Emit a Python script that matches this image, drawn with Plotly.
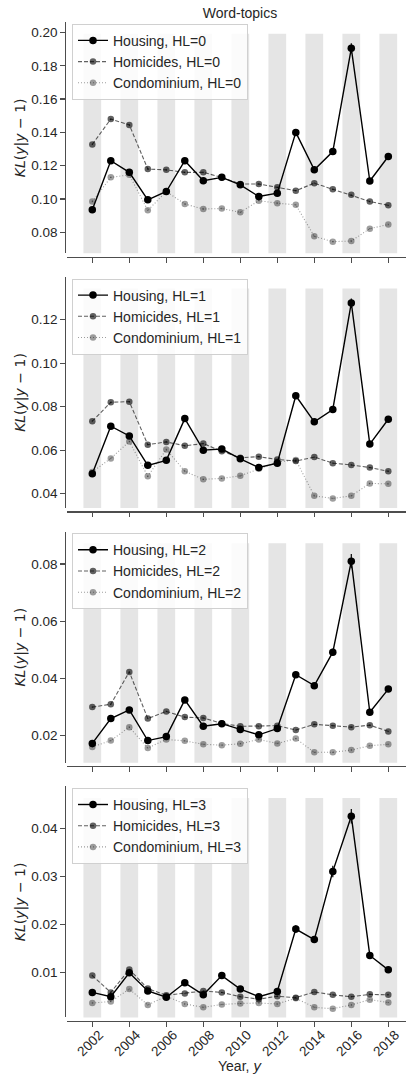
import plotly.graph_objects as go

years = list(range(2002, 2019))
band_years = [2002, 2004, 2006, 2008, 2010, 2012, 2014, 2016, 2018]
x_ticks = [2002, 2004, 2006, 2008, 2010, 2012, 2014, 2016, 2018]

housing_hl0 = [0.0935, 0.123, 0.116, 0.0995, 0.1045, 0.123, 0.111, 0.113, 0.1085, 0.1015, 0.1035, 0.140, 0.1175, 0.1285, 0.1905, 0.1108, 0.1255]
homicides_hl0 = [0.1328, 0.148, 0.1445, 0.118, 0.1175, 0.116, 0.116, 0.113, 0.109, 0.109, 0.107, 0.105, 0.1095, 0.1058, 0.1025, 0.0985, 0.0962]
condo_hl0 = [0.0985, 0.113, 0.1145, 0.0932, 0.1045, 0.097, 0.094, 0.0943, 0.092, 0.099, 0.0975, 0.0965, 0.0776, 0.0744, 0.0748, 0.0822, 0.0847]

housing_hl1 = [0.0492, 0.071, 0.0665, 0.053, 0.0553, 0.0745, 0.060, 0.0605, 0.056, 0.052, 0.054, 0.085, 0.073, 0.0787, 0.1277, 0.0628, 0.0742]
homicides_hl1 = [0.0733, 0.082, 0.0823, 0.0625, 0.0638, 0.062, 0.063, 0.0595, 0.0565, 0.057, 0.0557, 0.055, 0.0568, 0.054, 0.0532, 0.052, 0.0503]
condo_hl1 = [0.050, 0.0562, 0.064, 0.048, 0.0603, 0.0503, 0.0466, 0.047, 0.0482, 0.0515, 0.0545, 0.0555, 0.039, 0.0378, 0.039, 0.0447, 0.0445]

housing_hl2 = [0.0173, 0.026, 0.029, 0.0183, 0.0197, 0.0325, 0.0233, 0.0242, 0.0222, 0.0203, 0.0225, 0.0413, 0.0375, 0.0492, 0.081, 0.0282, 0.0363]
homicides_hl2 = [0.030, 0.031, 0.0423, 0.026, 0.0285, 0.0265, 0.0262, 0.0243, 0.0233, 0.0233, 0.0235, 0.022, 0.024, 0.0235, 0.023, 0.0237, 0.0215]
condo_hl2 = [0.0161, 0.0183, 0.023, 0.0157, 0.0187, 0.0182, 0.017, 0.0167, 0.0172, 0.0187, 0.0173, 0.019, 0.0142, 0.0142, 0.015, 0.0165, 0.017]

housing_hl3 = [0.0058, 0.0049, 0.0099, 0.0061, 0.0048, 0.0078, 0.0053, 0.0093, 0.0065, 0.0049, 0.006, 0.019, 0.0168, 0.031, 0.0425, 0.0135, 0.0105]
homicides_hl3 = [0.0093, 0.0058, 0.0106, 0.0066, 0.0052, 0.0056, 0.0061, 0.0058, 0.0049, 0.0044, 0.005, 0.0047, 0.0059, 0.0053, 0.0049, 0.0054, 0.0053]
condo_hl3 = [0.0036, 0.0039, 0.0065, 0.0032, 0.005, 0.0034, 0.0027, 0.0033, 0.0035, 0.0036, 0.0034, 0.0046, 0.0027, 0.0024, 0.0032, 0.0043, 0.0037]

housing_err = [
    [0.0008, 0.0008, 0.0008, 0.0008, 0.0008, 0.0008, 0.0008, 0.0008, 0.0008, 0.0008, 0.0008, 0.0012, 0.0009, 0.0015, 0.003, 0.0008, 0.0008],
    [0.0006, 0.0007, 0.0007, 0.0006, 0.0006, 0.0007, 0.0006, 0.0006, 0.0006, 0.0006, 0.0006, 0.0009, 0.0008, 0.0015, 0.002, 0.0007, 0.0007],
    [0.0005, 0.0005, 0.0005, 0.0005, 0.0005, 0.0006, 0.0005, 0.0005, 0.0005, 0.0005, 0.0005, 0.001, 0.0009, 0.0012, 0.0025, 0.0006, 0.0006],
    [0.0003, 0.0003, 0.0004, 0.0003, 0.0003, 0.0003, 0.0003, 0.0004, 0.0003, 0.0003, 0.0003, 0.0008, 0.0007, 0.0012, 0.0015, 0.0007, 0.0005],
]
other_err = [0.0004, 0.0003, 0.0002, 0.0001]

panels = [
    (housing_hl0, homicides_hl0, condo_hl0),
    (housing_hl1, homicides_hl1, condo_hl1),
    (housing_hl2, homicides_hl2, condo_hl2),
    (housing_hl3, homicides_hl3, condo_hl3),
]
y_ranges = [[0.0674, 0.2061], [0.0334, 0.1396], [0.01057, 0.0913], [0.0006, 0.0487]]
y_ticks = [[0.08, 0.10, 0.12, 0.14, 0.16, 0.18, 0.20], [0.04, 0.06, 0.08, 0.10, 0.12],
           [0.02, 0.04, 0.06, 0.08], [0.01, 0.02, 0.03, 0.04]]

W, H = 406, 1076
FONT = "Liberation Sans, Arial, sans-serif"
MATHFONT = "DejaVu Sans"
TXT = "#262626"
AX = "#4d4d4d"

fig = go.Figure()

styles = [
    dict(name="Housing", color="#000000", dash="solid", lw=1.4, ms=7.5),
    dict(name="Homicides", color="rgba(0,0,0,0.62)", dash="4px,2px", lw=1.1, ms=6.5),
    dict(name="Condominium", color="rgba(0,0,0,0.38)", dash="1px,2px", lw=1.1, ms=6.5),
]

x_left_px, axis_h, period = 67.3, 231.0, 254.7
top0 = 22.3
spine_x_px = 64.7

layout_axes = {}
for i, series in enumerate(panels):
    sfx = "" if i == 0 else str(i + 1)
    top = top0 + period * i
    bot = top + axis_h
    for k, (vals, st) in enumerate(zip(series, styles)):
        err = housing_err[i] if k == 0 else [other_err[i]] * len(vals)
        fig.add_trace(go.Scatter(
            x=years, y=vals, mode="lines+markers",
            name=f"{st['name']}, HL={i}",
            line=dict(color=st["color"], width=st["lw"], dash=st["dash"]),
            marker=dict(color=st["color"], size=st["ms"]),
            error_y=dict(type="data", array=err, visible=True, thickness=1.2, width=0, color=st["color"]),
            xaxis="x" + sfx, yaxis="y" + sfx,
            legend="legend" + sfx,
        ))
    layout_axes["xaxis" + sfx] = dict(
        domain=[x_left_px / W, 1.0], range=[2002 - (92.3 - x_left_px) / 18.5, 2002 + (W - 92.3) / 18.5],
        anchor="free", position=1 - (bot + 3.4) / H,
        showline=True, linecolor=AX, linewidth=1.3, ticks="outside", ticklen=4.5, tickwidth=1.2, tickcolor=AX,
        tickvals=x_ticks, ticktext=[str(t) for t in x_ticks], showticklabels=(i == 3), tickangle=-45,
        ticklabelshift=7, ticklabelstandoff=-5,
        showgrid=False, zeroline=False, tickfont=dict(size=13.5, color=TXT, family=FONT),
    )
    layout_axes["yaxis" + sfx] = dict(
        domain=[1 - bot / H, 1 - top / H], range=y_ranges[i],
        anchor="free", position=spine_x_px / W,
        showline=True, linecolor=AX, linewidth=1.3, ticks="outside", ticklen=4.5, tickwidth=1.2, tickcolor=AX,
        tickvals=y_ticks[i], tickformat=".2f", showgrid=False, zeroline=False,
        tickfont=dict(size=13.5, color=TXT, family=FONT),
        title=dict(text="<i>KL</i>(<i>y</i>|<i>y</i> \u2212 1)", font=dict(size=14, color=TXT, family=MATHFONT), standoff=1),
    )
    layout_axes["legend" + sfx] = dict(
        x=72 / W, y=1 - (top + 1.5) / H, xanchor="left", yanchor="top",
        bgcolor="rgba(255,255,255,0.85)", bordercolor="#d0d0d0", borderwidth=1,
        font=dict(size=14, color=TXT, family=FONT), tracegroupgap=0, itemwidth=30,
    )
    for by in band_years:
        fig.add_shape(type="rect", xref="x" + sfx, yref=("y" + sfx) + " domain",
                      x0=by - 0.48, x1=by + 0.48, y0=0, y1=0.95,
                      fillcolor="#e5e5e5", line=dict(width=0), layer="below")

fig.add_annotation(
    text="Year, <i><span style='font-family:DejaVu Sans'>y</span></i>",
    xref="paper", yref="paper", x=240 / W, y=1 - 1066 / H, xanchor="center", yanchor="middle",
    showarrow=False, font=dict(size=14, color=TXT, family=FONT),
)

fig.update_layout(
    width=W, height=H, autosize=False,
    margin=dict(l=0, r=0, t=0, b=0),
    paper_bgcolor="white", plot_bgcolor="rgba(0,0,0,0)",
    font=dict(family=FONT, color=TXT),
    title=dict(text="Word-topics", x=240 / W, xanchor="center", y=1 - 13 / H, yanchor="middle",
               font=dict(size=14, color=TXT, family=FONT)),
    showlegend=True,
    hovermode=False,
    **layout_axes,
)

fig.write_html("out.html", config={"displayModeBar": False, "staticPlot": True},
               post_script="document.body.style.margin='0';document.body.style.overflow='hidden';")
